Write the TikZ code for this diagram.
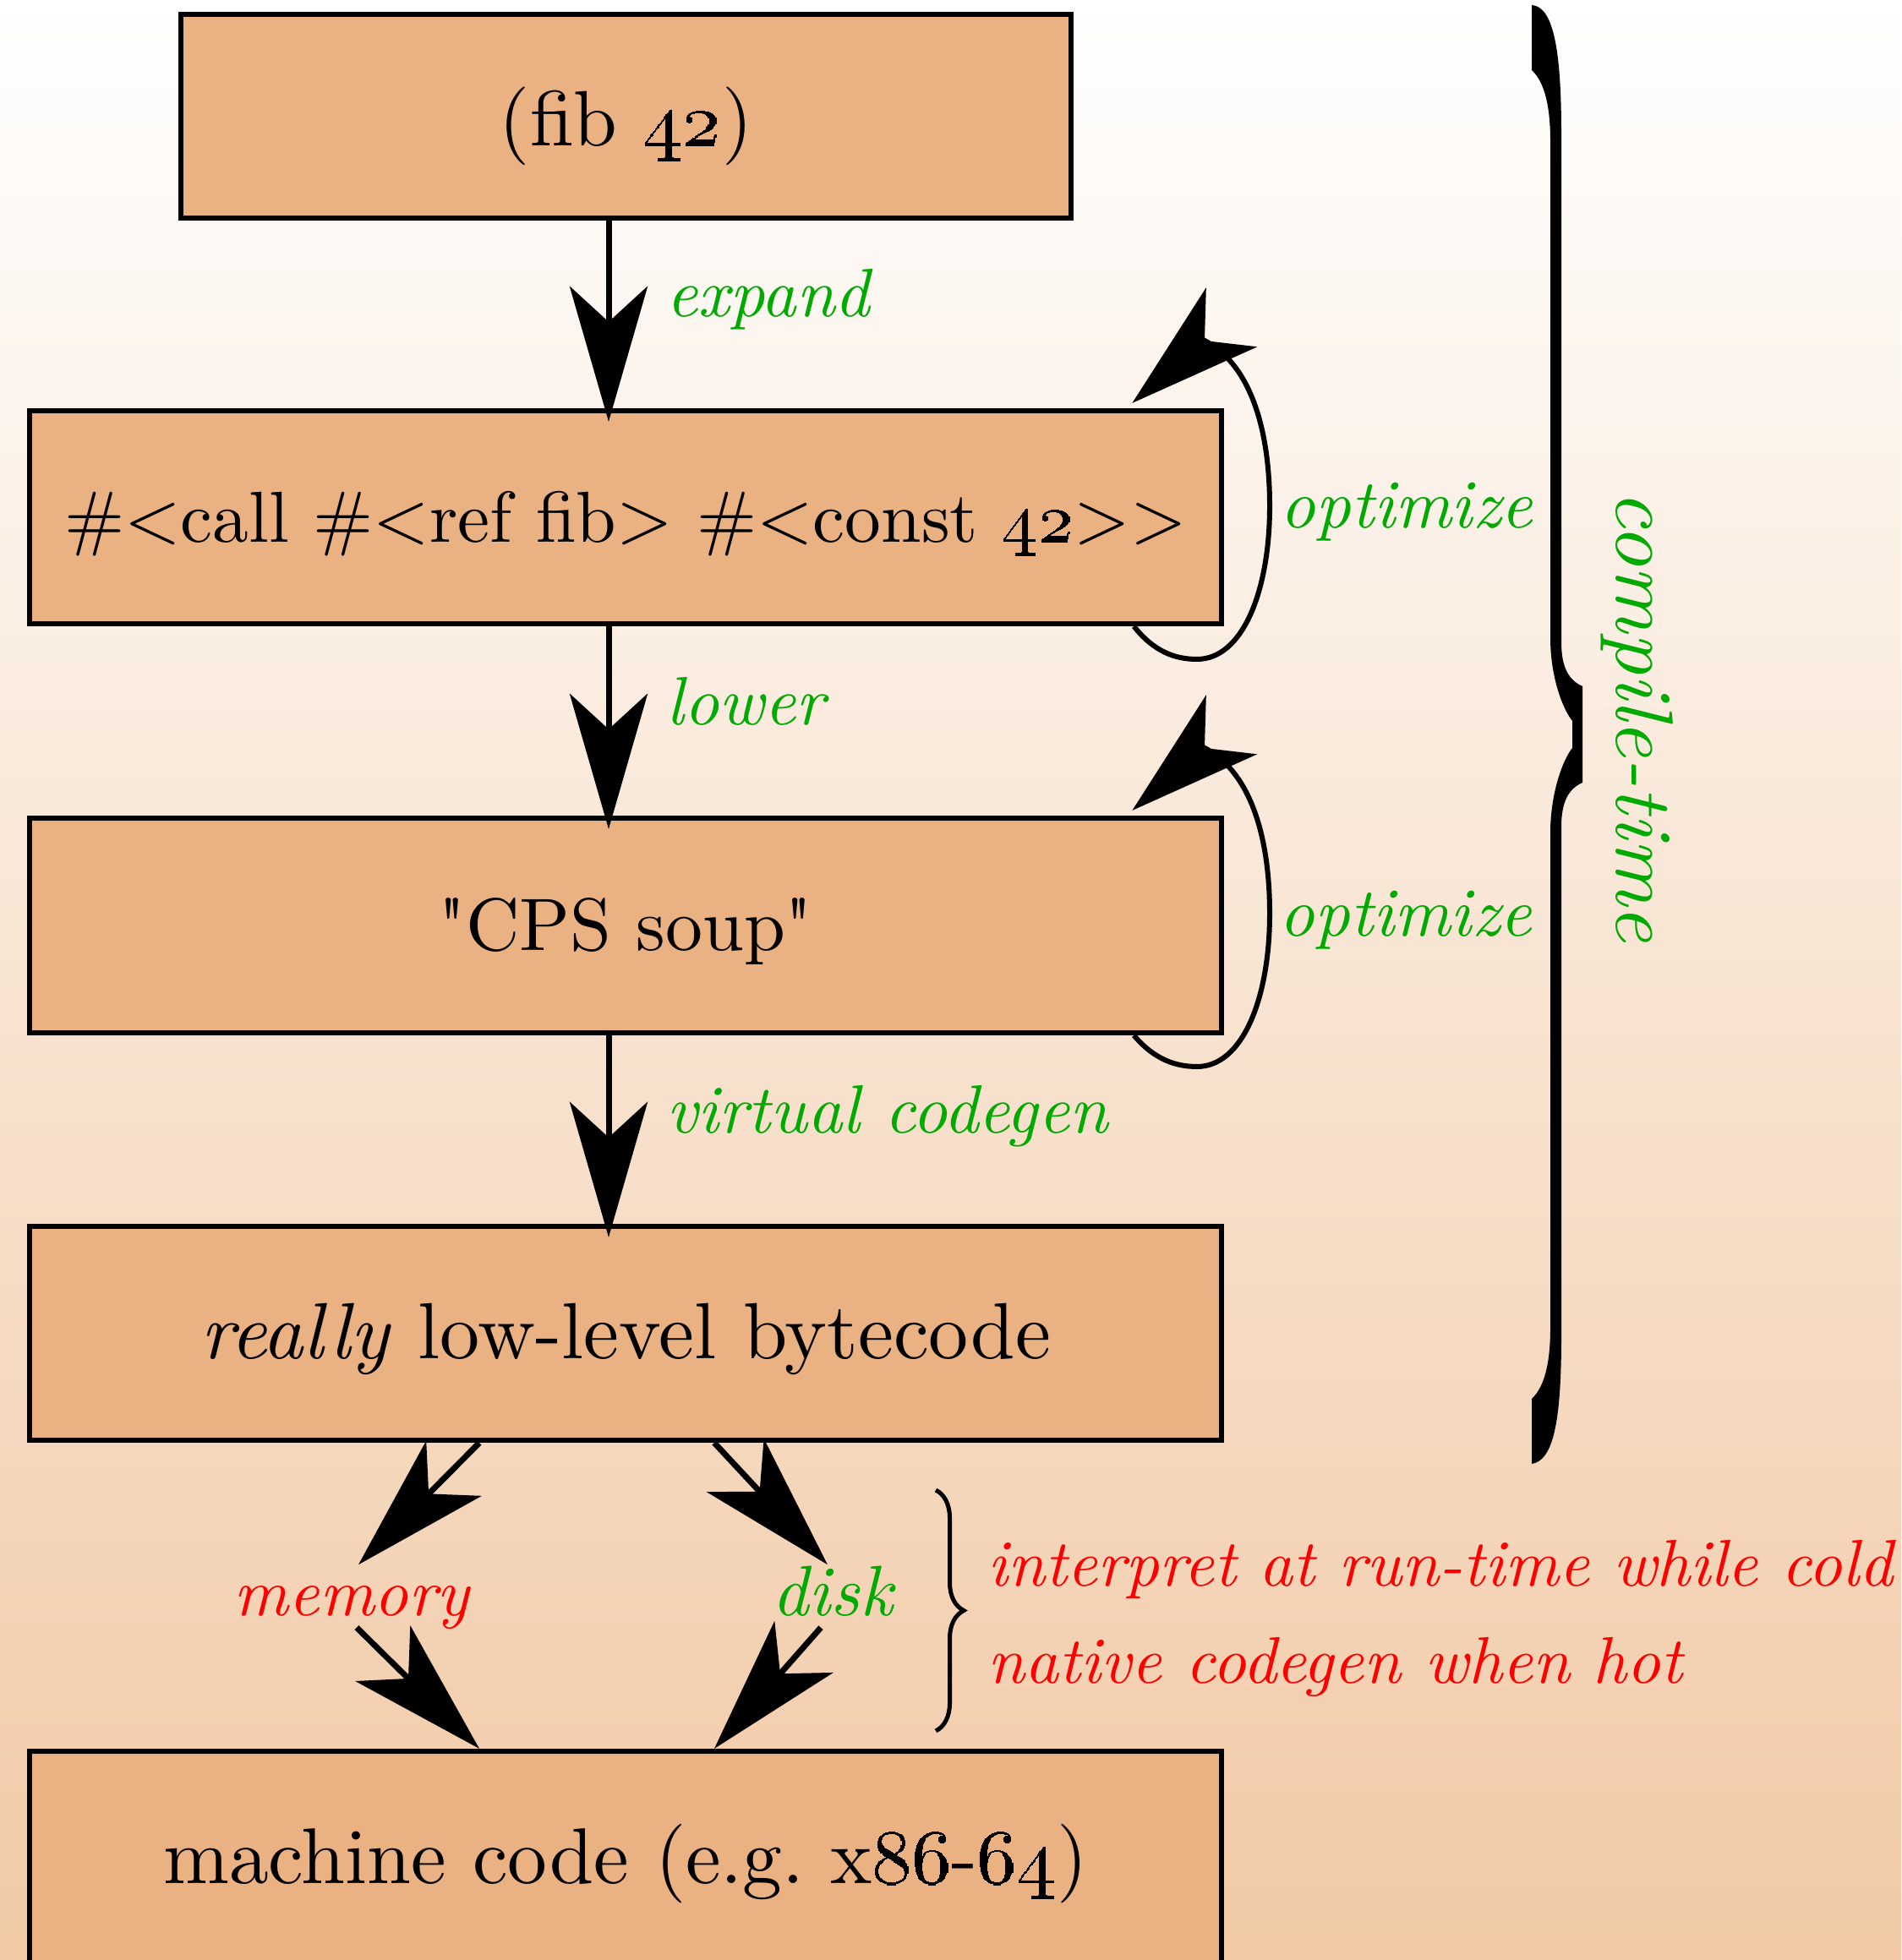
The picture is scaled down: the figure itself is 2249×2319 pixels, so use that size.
\documentclass[tikz,border=0pt]{standalone}
\usepackage{graphicx}
\usetikzlibrary{arrows.meta,decorations.pathreplacing}

\definecolor{boxfill}{RGB}{234,178,130}
\definecolor{lblgreen}{RGB}{0,170,0}
\definecolor{bgtop}{RGB}{255,255,255}
\definecolor{bgbottom}{RGB}{241,201,165}

% text set at 10pt and magnified, so the 10pt design of Latin Modern is used
\newcommand\magtext[2]{\scalebox{#1}{\fontsize{10}{12}\selectfont #2}}

\begin{document}
\begin{tikzpicture}[x=0.01cm,y=0.01cm,
  stage/.style={draw=black, line width=0.06cm, fill=boxfill, inner sep=0pt,
    minimum width=14.1cm, text height=0.8cm, text depth=0.2cm},
  flow/.style={line width=0.07cm, -{Stealth[length=1.6cm,width=0.92cm,inset=0.42cm]}},
  loopflow/.style={line width=0.06cm, -{Stealth[length=1.55cm,width=0.92cm,inset=0.42cm]}},
  greenlbl/.style={text=lblgreen, inner sep=0pt, anchor=base west},
  redlbl/.style={text=red, inner sep=0pt, anchor=base west},
]
\useasboundingbox (0,0) rectangle (2249,2319);
\shade[top color=bgtop, bottom color=bgbottom] (0,0) rectangle (2249,2319);
\clip (0,0) rectangle (2249,2319);

% pipeline stages
\node[stage, minimum width=10.53cm, minimum height=2.41cm, text height=0.85cm, text depth=0.15cm]
  (b1) at (740.5,2181.5) {\magtext{2.64}{(fib \oldstylenums{42})}};
\node[stage, minimum height=2.52cm] (b2) at (740,1707)
  {\magtext{2.43}{\#<call \#<ref fib> \#<const \oldstylenums{42}>\kern0pt>}};
\node[stage, minimum height=2.54cm] (b3) at (740,1224)
  {\magtext{2.5}{\textquotedbl CPS soup\textquotedbl}};
\node[stage, minimum height=2.53cm] (b4) at (740,741.5)
  {\magtext{2.68}{\textit{really} low-level bytecode}};
\node[stage, minimum height=2.52cm] (b5) at (740,121)
  {\magtext{2.66}{machine code (e.g.\ x\oldstylenums{86}-\oldstylenums{64})}};

% straight passes
\coordinate (ax) at (720,0);
\draw[flow, shorten >=-0.16cm] (b1.south -| ax) -- (b2.north -| ax);
\draw[flow, shorten >=-0.16cm] (b2.south -| ax) -- (b3.north -| ax);
\draw[flow, shorten >=-0.16cm] (b3.south -| ax) -- (b4.north -| ax);

\node[greenlbl] (lexpand) at (788,1944) {\magtext{2.3}{\itshape expand}};
\node[greenlbl] (llower) at (788,1461) {\magtext{2.3}{\itshape lower}};
\node[greenlbl] (lvirt) at (788,978) {\magtext{2.3}{\itshape virtual codegen}};

% optimisation loops
\draw[loopflow] ([xshift=-1.07cm]b2.south east)
  .. controls (1365,1548) and (1390,1539) .. (1416,1539)
  .. controls (1470,1539) and (1502,1620) .. (1502,1720)
  .. controls (1502,1820) and (1475,1890) .. (1425,1916)
  -- ([xshift=-1.09cm,yshift=0.06cm]b2.north east);
\draw[loopflow] ([xshift=-1.07cm]b3.south east)
  .. controls (1365,1066) and (1390,1057) .. (1416,1057)
  .. controls (1470,1057) and (1502,1138) .. (1502,1238)
  .. controls (1502,1338) and (1475,1408) .. (1425,1434)
  -- ([xshift=-1.09cm,yshift=0.06cm]b3.north east);
\node[greenlbl] (lopt1) at (1514,1694) {\magtext{2.32}{\itshape optimize}};
\node[greenlbl] (lopt2) at (1513,1211) {\magtext{2.32}{\itshape optimize}};

% two routes to machine code
\coordinate (xl) at (567,0);
\coordinate (xr) at (845,0);
\node[text=red, inner sep=0pt, anchor=base, text height=0.6cm, text depth=0.13cm]
  (mem) at (416,407) {\magtext{2.25}{\itshape memory}};
\node[text=lblgreen, inner sep=0pt, anchor=base, text height=0.6cm, text depth=0.13cm]
  (disk) at (985,407) {\magtext{2.4}{\itshape disk}};
\draw[flow] (b4.south -| xl) -- ([xshift=0.08cm]mem.north);
\draw[flow] ([xshift=0.06cm]mem.south) -- (b5.north -| xl);
\draw[flow] (b4.south -| xr) -- ([xshift=-0.06cm]disk.north);
\draw[flow] ([xshift=-0.14cm]disk.south) -- (b5.north -| xr);

% run-time note
\coordinate (rbtop) at (1107,556);
\coordinate (rbbot) at (1107,271);
\draw[line width=0.05cm, decorate, decoration={brace, amplitude=0.33cm}] (rbtop) -- (rbbot);
\node[redlbl] (cold) at (1168,442) {\magtext{2.22}{\itshape interpret at run-time while cold}};
\node[redlbl] (hot) at (1168,327) {\magtext{2.22}{\itshape native codegen when hot}};

% compile-time brace
\fill (1812,2313) .. controls (1838,2311) and (1847,2259) .. (1847,2159)
  -- (1847,1559) .. controls (1847,1529) and (1856,1514) .. (1872,1507)
  -- (1872,1393) .. controls (1856,1386) and (1847,1371) .. (1847,1341)
  -- (1847,739) .. controls (1847,639) and (1838,591) .. (1812,587)
  -- (1812,664) .. controls (1828,679) and (1834,709) .. (1834,749)
  -- (1834,1334) .. controls (1834,1379) and (1848,1419) .. (1860,1434)
  -- (1860,1466) .. controls (1848,1481) and (1834,1519) .. (1834,1564)
  -- (1834,2151) .. controls (1834,2191) and (1828,2221) .. (1812,2236)
  -- cycle;
\node[rotate=-90, anchor=base, text=lblgreen, inner sep=0pt] (ctime) at (1912,1471)
  {\magtext{2.74}{\itshape compile-time}};
\end{tikzpicture}
\end{document}
